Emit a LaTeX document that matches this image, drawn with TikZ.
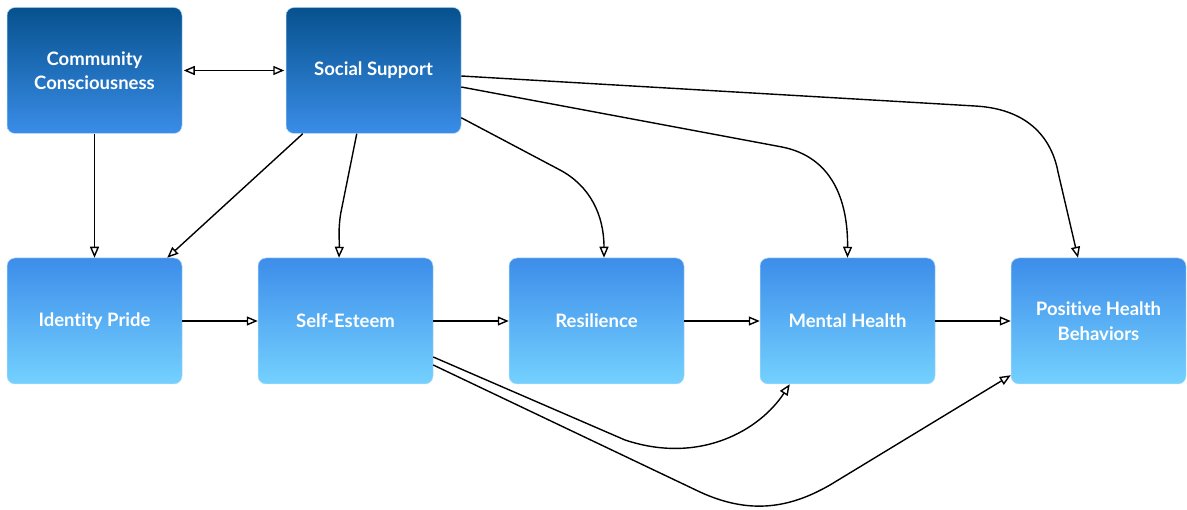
\documentclass[tikz,border=0pt]{standalone}
\usepackage{fontspec}
\setmainfont{Lato}[Ligatures=NoCommon]
\usetikzlibrary{arrows.meta,calc,shadings}
\definecolor{topA}{HTML}{06518E}
\definecolor{botA}{HTML}{3A8DE8}
\definecolor{topB}{HTML}{3D8DEA}
\definecolor{botB}{HTML}{74D1FE}
\definecolor{edgeB}{HTML}{B4DCF7}
\tikzset{
  box/.style={rounded corners=8pt, minimum width=175pt, minimum height=126pt,
    align=center, text=white, font=\bfseries\fontsize{18.5}{24.5}\selectfont,
    draw=edgeB, line width=0.5pt, inner sep=0pt},
  upper/.style={box, top color=topA, bottom color=botA},
  lower/.style={box, top color=topB, bottom color=botB},
  conn/.style={line width=1.4pt, -{Triangle[open,length=11pt,width=9pt]}},
  bconn/.style={line width=1.4pt, {Triangle[open,length=11pt,width=9pt]}-{Triangle[open,length=11pt,width=9pt]}}
}
\begin{document}
\begin{tikzpicture}[x=1pt,y=-1pt]
\useasboundingbox (0,0) rectangle (1187,510);
\node[upper] (cc) at (94.5,70.5) {Community\\Consciousness};
\node[upper] (ss) at (373.5,70.5) {Social Support};
\node[lower] (ip) at (94.5,321) {Identity Pride};
\node[lower] (se) at (345.5,321) {Self-Esteem};
\node[lower] (res) at (596.5,321) {Resilience};
\node[lower] (mh) at (847.5,321) {Mental Health};
\node[lower] (phb) at (1098.5,321) {Positive Health\\Behaviors};

\draw[bconn] ($(cc.east)+(1.5,0)$) -- ($(ss.west)+(-1.5,0)$);
\draw[conn] (cc.south) -- (ip.north);
\draw[conn] ($(ss.south west)+(17,0)$) -- ($(ip.north east)+(-15,0)$);
\draw[conn] ($(ss.south west)+(71,0)$) -- (341,212) .. controls (338,228) and (339.5,240) .. ($(se.north)+(-6.5,0)$);
\draw[conn] ($(ss.south east)+(0,-16)$) -- (560,170) .. controls (590,186) and (604,215) .. ($(res.north)+(7.5,0)$);
\draw[conn] ($(ss.east)+(0,16.5)$) -- (782,147) .. controls (832,157) and (848,200) .. (mh.north);
\draw[conn] ($(ss.east)+(0,5.5)$) -- (975,106) .. controls (1030,109) and (1052,140) .. (1058,172) -- ($(phb.north)+(-20.5,0)$);
\draw[conn] (ip.east) -- (se.west);
\draw[conn] (se.east) -- (res.west);
\draw[conn] (res.east) -- (mh.west);
\draw[conn] (mh.east) -- (phb.west);
\draw[conn] ($(se.east)+(0,36)$) -- (625,440) .. controls (700,465) and (760,430) .. ($(mh.south west)+(30,0)$);
\draw[conn] ($(se.east)+(0,44)$) -- (700,492) .. controls (750,515) and (790,508) .. (830,485) -- ($(phb.south west)+(0,-9)$);
\end{tikzpicture}
\end{document}
